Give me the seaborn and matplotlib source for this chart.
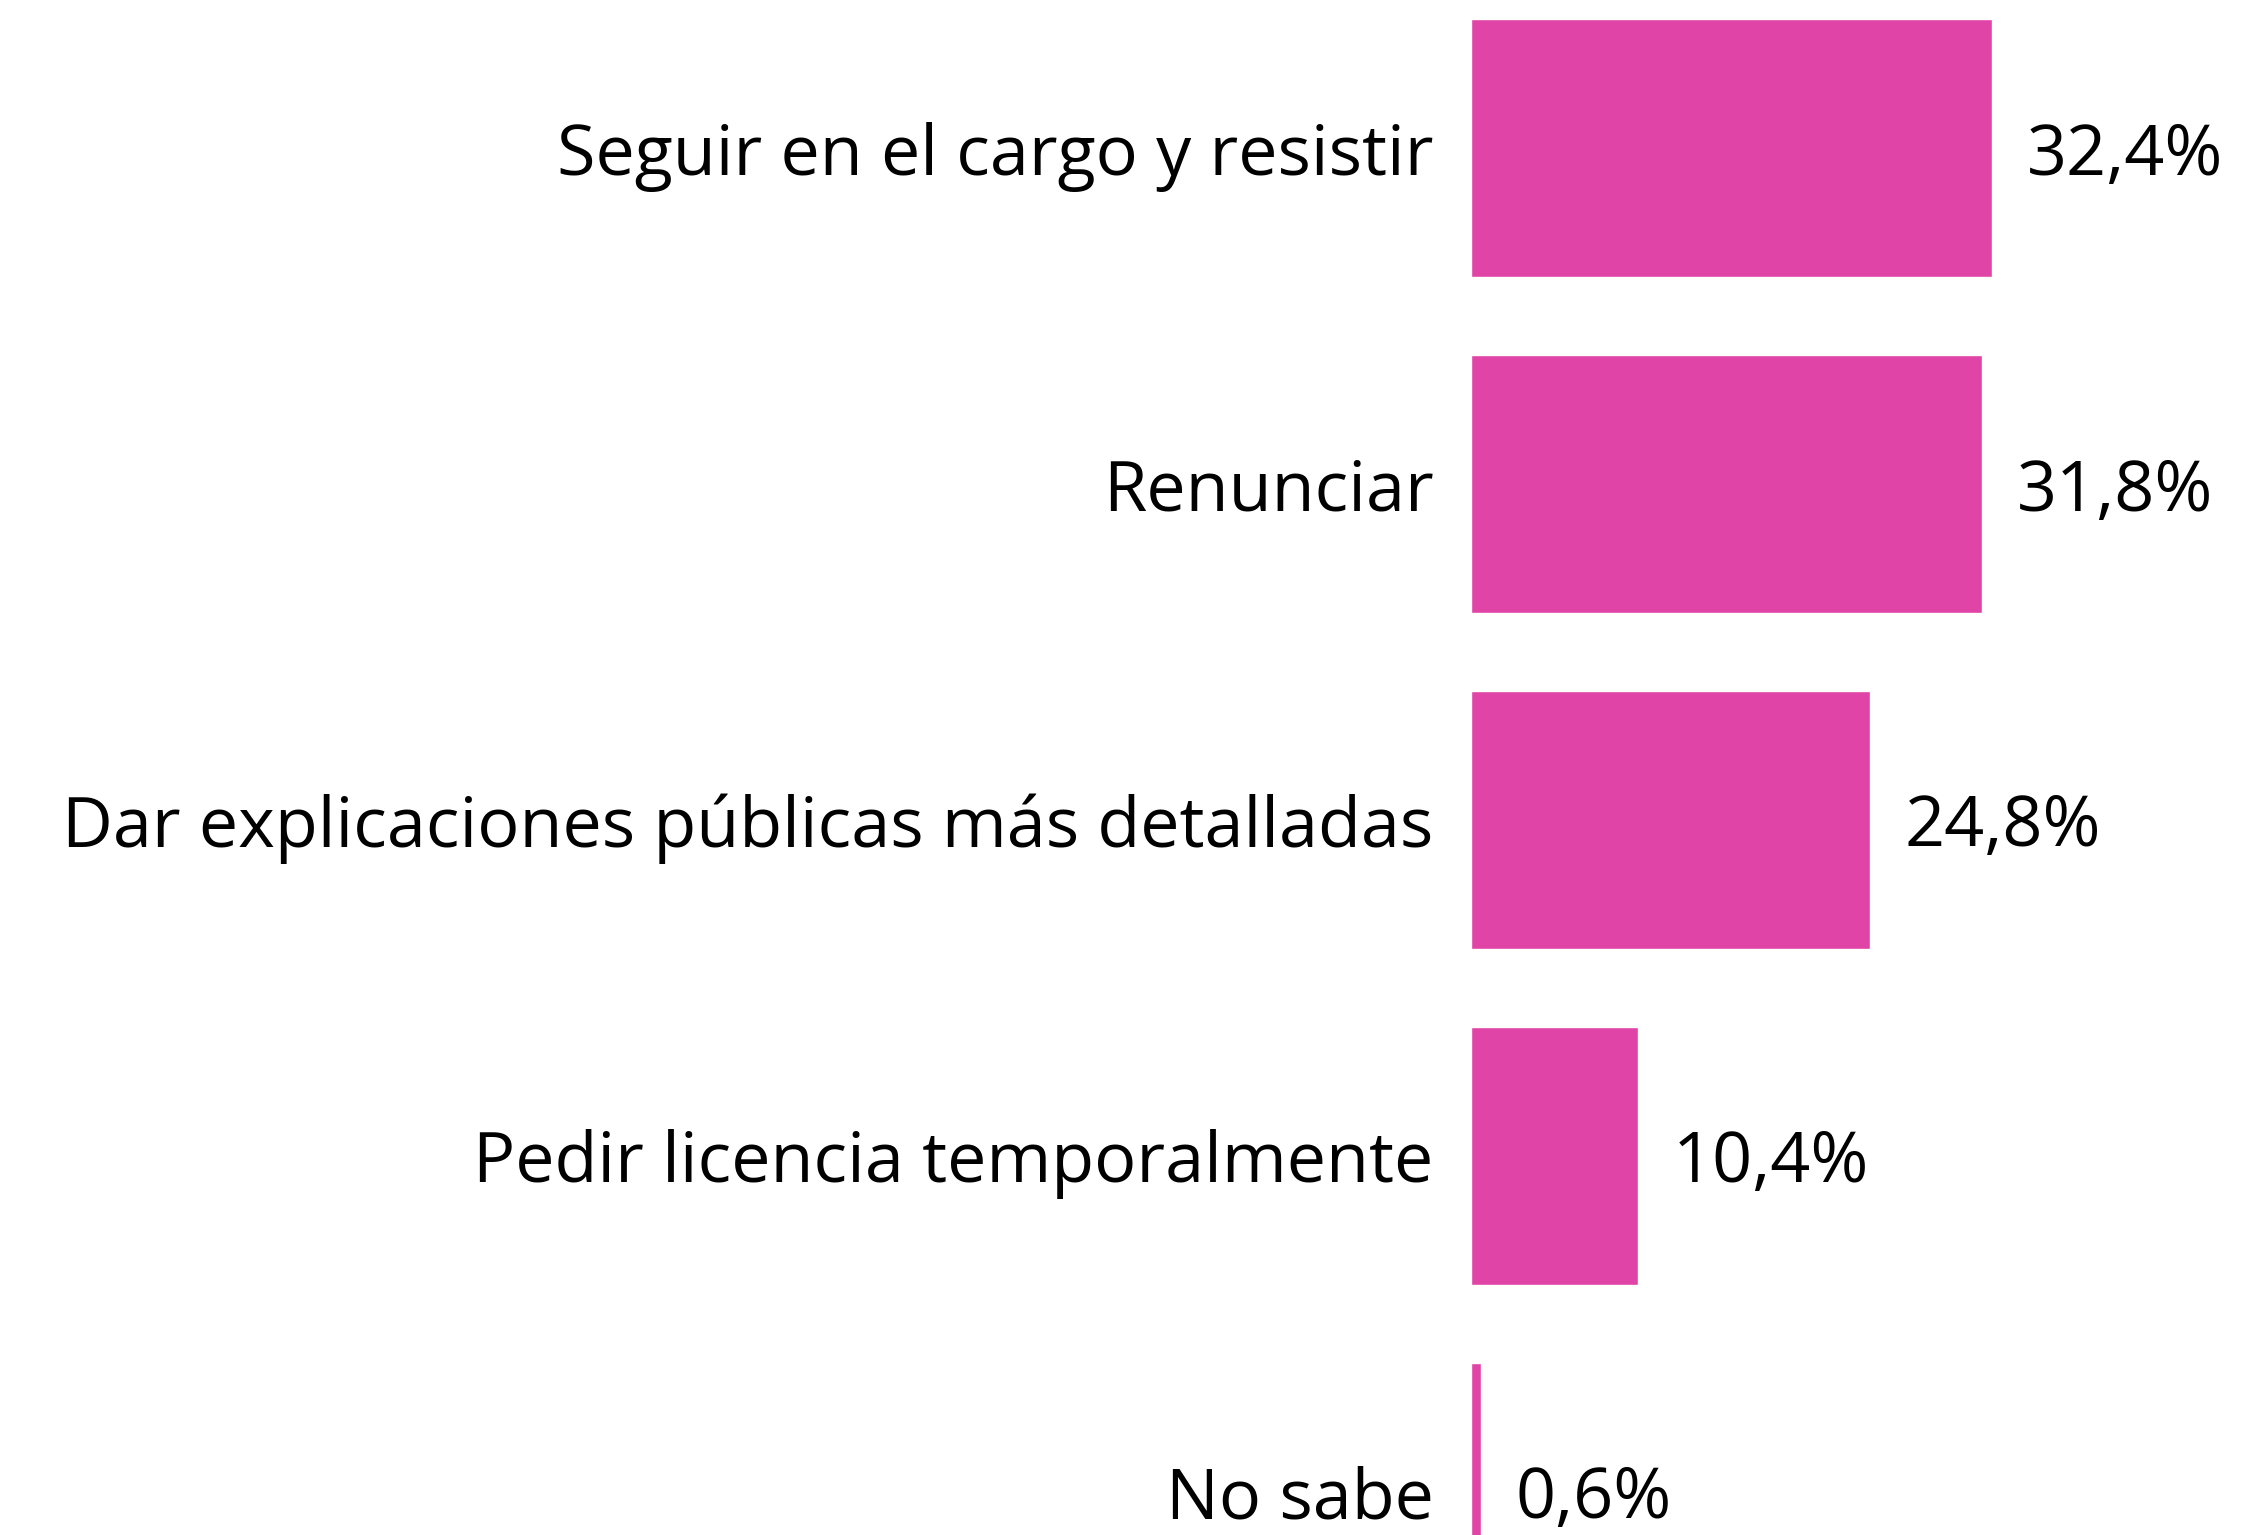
import pandas as pd
import seaborn as sns
import matplotlib.pyplot as plt

categorias = ['Seguir en el cargo y resistir', 'Renunciar',
              'Dar explicaciones públicas más detalladas',
              'Pedir licencia temporalmente', 'No sabe']
porcentajes = [32.4, 31.8, 24.8, 10.4, 0.6]

dados = pd.DataFrame({'categoria': categorias, 'pct': porcentajes})

sns.set_style('white')
plt.rcParams['font.family'] = ['Open Sans', 'DejaVu Sans']

fig = plt.figure(figsize=(22.54, 15.35), dpi=100)
ax = fig.add_axes([0.6526, 0, 0.3474, 1])

sns.barplot(data=dados, x='pct', y='categoria', orient='h',
            color='#E044A6', saturation=1, width=0.77, ax=ax)

# escala: 0 na borda esquerda das barras
ax.set_xlim(0, 48.7)
ax.set_ylim(4.128, -0.4405)

rotulos = [f'{v:.1f}%'.replace('.', ',') for v in porcentajes]
textos = ax.bar_label(ax.containers[0], labels=rotulos, padding=25,
                      fontsize=50.5, color='black')
for t in textos:
    t.set_va('center_baseline')

ax.set_xlabel('')
ax.set_ylabel('')
ax.set_xticks([])
ax.tick_params(axis='y', length=0, pad=27, labelsize=50.5, labelcolor='black')
for t in ax.get_yticklabels():
    t.set_va('center_baseline')
sns.despine(ax=ax, left=True, bottom=True)

fig.savefig('out.png', dpi=100, facecolor='white')
